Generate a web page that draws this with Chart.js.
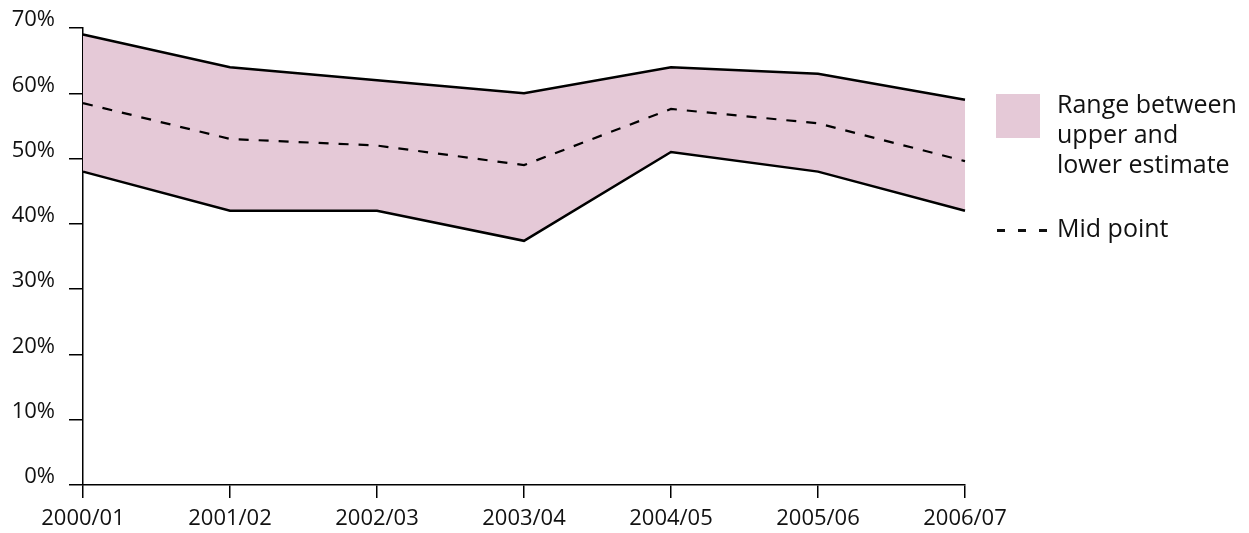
<!DOCTYPE html>
<html>
<head>
<meta charset="utf-8">
<script src="https://cdn.jsdelivr.net/npm/chart.js@4.4.0/dist/chart.umd.min.js"></script>
<style>
  html, body { margin: 0; padding: 0; background: #fff; }
  #wrap { position: relative; width: 1249px; height: 533px; font-family: 'Open Sans', sans-serif; color: #111; }
  canvas { position: absolute; left: 0; top: 0; }
  .leg-box { position: absolute; left: 996px; top: 94px; width: 44px; height: 44px; background: #e5c9d7; }
  .leg-text { position: absolute; left: 1057px; font-size: 25px; line-height: 30px; white-space: nowrap; }
  .leg-dash { position: absolute; left: 997px; top: 229px; width: 51px; height: 2.5px;
              background: repeating-linear-gradient(to right, #111 0, #111 8px, transparent 8px, transparent 21px); }
</style>
</head>
<body>
<div id="wrap">
  <canvas id="grafico" width="1249" height="533"></canvas>
  <div class="leg-box"></div>
  <div class="leg-text" style="top: 88px;">Range between<br>upper and<br>lower estimate</div>
  <div class="leg-dash"></div>
  <div class="leg-text" style="top: 212px;">Mid point</div>
</div>
<script>
// Dati
const anni = ['2000/01', '2001/02', '2002/03', '2003/04', '2004/05', '2005/06', '2006/07'];
const stimaAlta = [69.0, 64.0, 62.0, 60.0, 64.0, 63.0, 59.0];
const puntoMedio = [58.5, 53.0, 52.0, 49.0, 57.6, 55.4, 49.6];
const stimaBassa = [48.0, 42.0, 42.0, 37.4, 51.0, 48.0, 42.0];

Chart.defaults.font.family = "'Open Sans', sans-serif";
Chart.defaults.font.size = 22;
Chart.defaults.color = '#111';

const ctx = document.getElementById('grafico').getContext('2d');

new Chart(ctx, {
  type: 'line',
  data: {
    labels: anni,
    datasets: [
      {
        label: 'Upper',
        data: stimaAlta,
        borderColor: '#000',
        borderWidth: 2.5,
        backgroundColor: '#e5c9d7',
        fill: '+1',
        pointRadius: 0,
        tension: 0
      },
      {
        label: 'Lower',
        data: stimaBassa,
        borderColor: '#000',
        borderWidth: 2.5,
        fill: false,
        pointRadius: 0,
        tension: 0
      },
      {
        label: 'Mid point',
        data: puntoMedio,
        borderColor: '#000',
        borderWidth: 2.2,
        borderDash: [10, 10],
        fill: false,
        pointRadius: 0,
        tension: 0
      }
    ]
  },
  options: {
    responsive: false,
    animation: false,
    layout: { padding: { left: 0, right: 284, top: 28, bottom: 0 } },
    plugins: {
      legend: { display: false },
      tooltip: { enabled: false },
      filler: { drawTime: 'beforeDatasetsDraw' } // riempimento sotto tutte le linee
    },
    scales: {
      x: {
        offset: false,
        grid: { drawOnChartArea: false, drawTicks: true, tickLength: 13, color: '#000', lineWidth: 1.5 },
        border: { color: '#000', width: 1.5 },
        ticks: { padding: 8, maxRotation: 0, autoSkip: false },
        afterFit: scale => { scale.height = 48; }
      },
      y: {
        min: 0,
        max: 70,
        grid: { drawOnChartArea: false, drawTicks: true, tickLength: 14, color: '#000', lineWidth: 1.5 },
        border: { color: '#000', width: 1.5 },
        ticks: {
          stepSize: 10,
          padding: 14,
          labelOffset: -8,
          callback: v => v + '%'
        },
        afterFit: scale => { scale.width = 83; }
      }
    }
  }
});
</script>
</body>
</html>
